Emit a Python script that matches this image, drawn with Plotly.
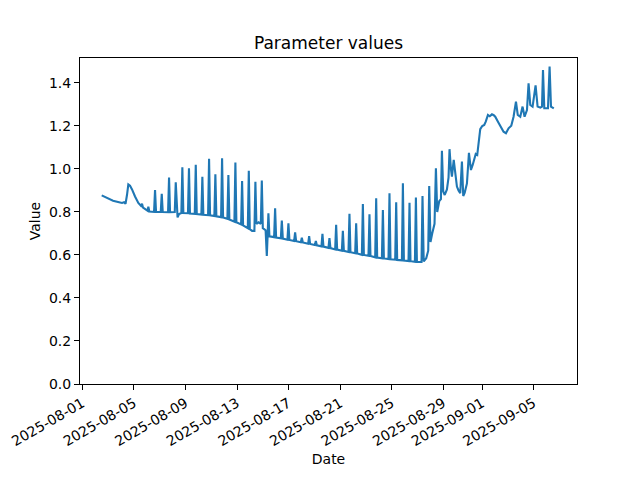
import pandas as pd
import plotly.graph_objects as go

# Time of each reading, in days since 2025-08-01 00:00
day_offsets = [
    1.506, 1.839, 2.111, 2.382, 2.615, 2.887, 3.081, 3.236, 3.353, 3.469,
    3.570, 3.702, 3.857, 4.090, 4.346, 4.555, 4.633, 4.711, 4.943, 5.060,
    5.122, 5.199, 5.564, 5.642, 5.719, 6.084, 6.162, 6.239, 6.651, 6.728,
    6.806, 7.171, 7.248, 7.326, 7.388, 7.504, 7.683, 7.760, 7.838, 8.195,
    8.273, 8.350, 8.723, 8.800, 8.878, 9.235, 9.312, 9.390, 9.755, 9.832,
    9.910, 10.244, 10.321, 10.399, 10.764, 10.841, 10.919, 11.253, 11.330, 11.408,
    11.796, 11.873, 11.951, 12.316, 12.393, 12.471, 12.836, 12.913, 12.991, 13.169,
    13.348, 13.425, 13.503, 13.674, 13.845, 13.922, 14.000, 14.217, 14.310, 14.372,
    14.434, 14.512, 14.877, 14.954, 15.032, 15.397, 15.474, 15.552, 15.909, 15.986,
    16.064, 16.429, 16.506, 16.584, 16.949, 17.026, 17.104, 17.515, 17.593, 17.670,
    18.035, 18.113, 18.190, 18.547, 18.625, 18.703, 19.091, 19.168, 19.246, 19.611,
    19.688, 19.766, 20.130, 20.208, 20.286, 20.643, 20.720, 20.798, 21.163, 21.240,
    21.318, 21.683, 21.760, 21.838, 22.195, 22.272, 22.350, 22.715, 22.792, 22.870,
    23.235, 23.312, 23.390, 23.747, 23.824, 23.902, 24.267, 24.344, 24.422, 24.787,
    24.864, 24.942, 25.299, 25.377, 25.454, 25.796, 25.873, 25.951, 26.308, 26.385,
    26.479, 26.673, 26.828, 26.905, 27.006, 27.138, 27.317, 27.425, 27.526, 27.681,
    27.813, 27.891, 27.992, 28.108, 28.279, 28.403, 28.481, 28.589, 28.667, 28.807,
    28.923, 29.055, 29.179, 29.311, 29.443, 29.544, 29.660, 29.831, 29.986, 30.141,
    30.281, 30.398, 30.514, 30.630, 30.747, 30.863, 31.018, 31.173, 31.290, 31.461,
    31.600, 31.771, 31.911, 32.027, 32.237, 32.415, 32.671, 32.857, 33.059, 33.269,
    33.447, 33.634, 33.773, 33.967, 34.146, 34.301, 34.487, 34.611, 34.743, 34.922,
    35.155, 35.310, 35.520, 35.652, 35.729, 35.830, 36.117, 36.241, 36.350, 36.568,
]

values = [
    0.877, 0.866, 0.860, 0.852, 0.849, 0.846, 0.842, 0.845, 0.838, 0.880,
    0.928, 0.922, 0.905, 0.872, 0.842, 0.828, 0.838, 0.820, 0.808, 0.806,
    0.825, 0.802, 0.800, 0.902, 0.800, 0.800, 0.884, 0.800, 0.799, 0.960,
    0.799, 0.800, 0.938, 0.790, 0.775, 0.790, 0.795, 1.008, 0.795, 0.794,
    1.003, 0.793, 0.791, 1.019, 0.790, 0.788, 0.964, 0.787, 0.785, 1.047,
    0.784, 0.781, 0.975, 0.780, 0.776, 1.050, 0.774, 0.768, 0.972, 0.765,
    0.755, 1.030, 0.752, 0.742, 0.944, 0.738, 0.725, 0.992, 0.720, 0.712,
    0.712, 0.941, 0.745, 0.752, 0.745, 0.946, 0.725, 0.715, 0.595, 0.690,
    0.794, 0.687, 0.683, 0.817, 0.681, 0.678, 0.760, 0.676, 0.671, 0.747,
    0.670, 0.665, 0.705, 0.664, 0.659, 0.680, 0.658, 0.652, 0.688, 0.651,
    0.646, 0.665, 0.645, 0.640, 0.698, 0.639, 0.633, 0.678, 0.632, 0.626,
    0.740, 0.625, 0.620, 0.712, 0.619, 0.614, 0.791, 0.613, 0.608, 0.747,
    0.607, 0.601, 0.837, 0.600, 0.596, 0.789, 0.595, 0.589, 0.864, 0.588,
    0.585, 0.809, 0.584, 0.581, 0.887, 0.580, 0.578, 0.845, 0.577, 0.575,
    0.933, 0.574, 0.572, 0.843, 0.571, 0.568, 0.867, 0.567, 0.567, 0.874,
    0.570, 0.585, 0.620, 0.921, 0.660, 0.700, 0.745, 1.003, 0.800, 0.850,
    0.860, 1.085, 0.895, 0.879, 0.905, 0.960, 1.092, 1.000, 0.964, 1.042,
    0.980, 0.918, 0.900, 0.887, 1.034, 0.874, 0.890, 0.933, 1.075, 0.995,
    1.020, 1.050, 1.070, 1.065, 1.130, 1.185, 1.200, 1.205, 1.220, 1.251,
    1.245, 1.254, 1.250, 1.243, 1.220, 1.201, 1.173, 1.166, 1.189, 1.201,
    1.243, 1.313, 1.251, 1.243, 1.290, 1.243, 1.274, 1.398, 1.298, 1.290,
    1.389, 1.290, 1.285, 1.290, 1.460, 1.282, 1.282, 1.476, 1.290, 1.282,
]

tick_dates = ["2025-08-01", "2025-08-05", "2025-08-09", "2025-08-13", "2025-08-17",
              "2025-08-21", "2025-08-25", "2025-08-29", "2025-09-01", "2025-09-05"]
y_ticks = [0.0, 0.2, 0.4, 0.6, 0.8, 1.0, 1.2, 1.4]

start = pd.Timestamp("2025-08-01")
dates = [start + pd.Timedelta(days=d) for d in day_offsets]

x_min = start + pd.Timedelta(days=-0.178)
x_max = start + pd.Timedelta(days=38.367)

FONT = "DejaVu Sans"

fig = go.Figure()
fig.add_trace(go.Scatter(
    x=dates, y=values, mode="lines",
    line=dict(color="#1f77b4", width=2.1),
    showlegend=False,
))

axis_common = dict(
    showgrid=False, zeroline=False, automargin=False,
    showline=True, linecolor="black", linewidth=1, mirror=True,
    ticks="outside", ticklen=5, tickwidth=1, tickcolor="black",
    tickfont=dict(family=FONT, size=14, color="black"),
)

# The page body has an 8px margin, so the figure is offset by 8px.
fig.update_layout(
    width=624, height=464,
    margin=dict(l=72, r=55, t=50, b=88),
    paper_bgcolor="white", plot_bgcolor="white",
    font=dict(family=FONT, size=14, color="black"),
    title=dict(text="Parameter values", x=0.5, xref="paper", xanchor="center",
               y=0.9246, yanchor="middle", yref="container",
               font=dict(family=FONT, size=17, color="black")),
    xaxis=dict(
        type="date", range=[x_min, x_max],
        tickvals=[pd.Timestamp(t) for t in tick_dates], ticktext=tick_dates,
        tickangle=-30,
        title=dict(text="Date", font=dict(family=FONT, size=14, color="black"), standoff=6),
        **axis_common,
    ),
    yaxis=dict(
        range=[0, 1.516], tickvals=y_ticks, tickformat=".1f",
        title=dict(text="Value", font=dict(family=FONT, size=14, color="black"), standoff=5),
        **axis_common,
    ),
)

fig.write_html("out.html")
